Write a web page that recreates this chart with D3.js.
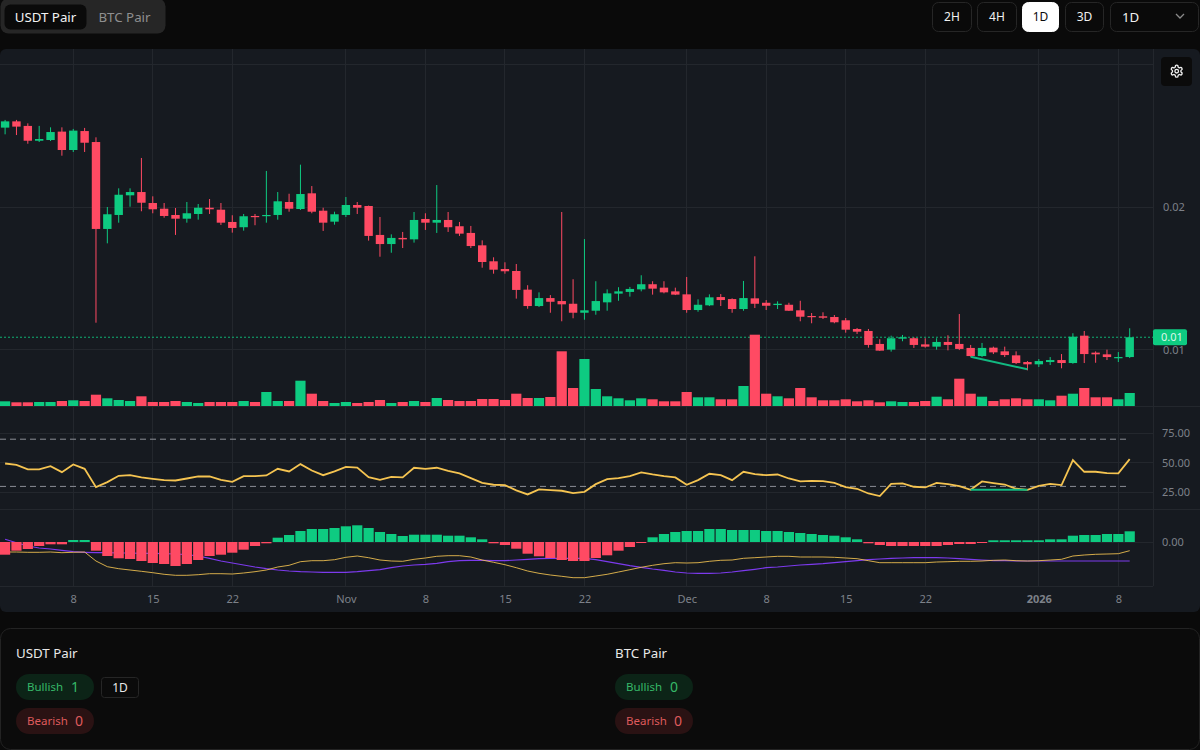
<!DOCTYPE html>
<html>
<head>
<meta charset="utf-8">
<script src="https://cdn.jsdelivr.net/npm/d3@7"></script>
<style>
  html, body { margin: 0; background: #0a0a0a; }
  svg { display: block; }
  text { font-family: "Noto Sans", sans-serif; }
</style>
</head>
<body>
<script>
// daily candles, Oct 2 2025 to Jan 9 2026
const opens = [0.02557,0.02601,0.02569,0.02465,0.02470,0.02529,0.02400,0.02533,0.02456,0.01846,0.01944,0.02082,0.02105,0.02028,0.01988,0.01944,0.01918,0.01951,0.01995,0.01981,
  0.01895,0.01858,0.01937,0.01937,0.01944,0.02035,0.01986,0.02096,0.01974,0.01897,0.01944,0.02014,0.02007,0.01804,0.01740,0.01783,0.01773,0.01916,0.01890,0.01909,
  0.01865,0.01818,0.01731,0.01619,0.01565,0.01551,0.01420,0.01305,0.01361,0.01340,0.01321,0.01258,0.01272,0.01331,0.01392,0.01404,0.01422,0.01458,0.01434,0.01408,
  0.01387,0.01277,0.01310,0.01368,0.01354,0.01284,0.01359,0.01328,0.01312,0.01314,0.01275,0.01235,0.01233,0.01228,0.01205,0.01144,0.01130,0.01039,0.00999,0.01076,
  0.01079,0.01036,0.01020,0.01053,0.01039,0.01011,0.00954,0.01013,0.00987,0.00959,0.00912,0.00896,0.00912,0.00926,0.00905,0.01097,0.00978,0.00966,0.00942,0.00947];
const highs = [0.02611,0.02611,0.02587,0.02569,0.02559,0.02559,0.02548,0.02555,0.02489,0.02000,0.02131,0.02131,0.02344,0.02075,0.02028,0.01993,0.02035,0.02021,0.02056,0.02028,
  0.01942,0.01951,0.01951,0.02253,0.02105,0.02093,0.02297,0.02147,0.01995,0.01967,0.02070,0.02035,0.02010,0.01930,0.01808,0.01825,0.01965,0.01956,0.02154,0.01965,
  0.01895,0.01867,0.01766,0.01647,0.01612,0.01600,0.01451,0.01401,0.01382,0.01965,0.01493,0.01775,0.01479,0.01422,0.01437,0.01439,0.01521,0.01479,0.01479,0.01434,
  0.01509,0.01352,0.01387,0.01389,0.01359,0.01481,0.01654,0.01347,0.01338,0.01328,0.01342,0.01256,0.01261,0.01242,0.01221,0.01151,0.01144,0.01072,0.01097,0.01102,
  0.01086,0.01079,0.01079,0.01100,0.01249,0.01032,0.01046,0.01020,0.01020,0.00987,0.00919,0.00933,0.00947,0.00968,0.01114,0.01130,0.00987,0.00999,0.00982,0.01149];
const lows = [0.02510,0.02505,0.02444,0.02456,0.02463,0.02360,0.02386,0.02386,0.01188,0.01745,0.01890,0.02002,0.01970,0.01956,0.01925,0.01804,0.01890,0.01911,0.01951,0.01874,
  0.01820,0.01834,0.01872,0.01890,0.01911,0.01967,0.01979,0.01956,0.01832,0.01876,0.01930,0.01951,0.01764,0.01651,0.01679,0.01712,0.01750,0.01839,0.01818,0.01825,
  0.01797,0.01712,0.01574,0.01532,0.01532,0.01357,0.01286,0.01298,0.01258,0.01198,0.01219,0.01209,0.01244,0.01272,0.01342,0.01371,0.01408,0.01385,0.01394,0.01382,
  0.01258,0.01265,0.01305,0.01305,0.01258,0.01272,0.01291,0.01277,0.01284,0.01270,0.01198,0.01184,0.01214,0.01184,0.01118,0.01109,0.01013,0.00990,0.00985,0.01058,
  0.01011,0.01013,0.00999,0.00994,0.00996,0.00949,0.00947,0.00968,0.00947,0.00898,0.00854,0.00877,0.00891,0.00868,0.00900,0.00905,0.00907,0.00926,0.00912,0.00940];
const closes = [0.02601,0.02564,0.02465,0.02477,0.02526,0.02400,0.02536,0.02451,0.01846,0.01949,0.02086,0.02105,0.02030,0.01984,0.01937,0.01918,0.01956,0.01995,0.01984,0.01890,
  0.01853,0.01935,0.01930,0.01944,0.02040,0.01988,0.02091,0.01967,0.01890,0.01949,0.02014,0.01995,0.01797,0.01740,0.01783,0.01773,0.01909,0.01890,0.01909,0.01858,
  0.01813,0.01726,0.01614,0.01560,0.01549,0.01418,0.01305,0.01361,0.01335,0.01317,0.01258,0.01275,0.01340,0.01394,0.01408,0.01425,0.01458,0.01427,0.01401,0.01385,
  0.01277,0.01314,0.01366,0.01347,0.01284,0.01361,0.01321,0.01307,0.01321,0.01272,0.01230,0.01228,0.01223,0.01191,0.01139,0.01125,0.01032,0.00992,0.01079,0.01086,
  0.01032,0.01020,0.01053,0.01032,0.01004,0.00954,0.01011,0.00980,0.00961,0.00905,0.00896,0.00919,0.00926,0.00905,0.01090,0.00968,0.00966,0.00947,0.00947,0.01086];
const volumes = [47,37,37,40,40,50,57,50,113,77,60,50,97,40,40,50,40,30,40,40,40,50,40,140,50,50,253,123,50,30,
  40,30,40,60,30,40,50,40,80,60,50,50,70,70,60,123,80,80,90,547,180,470,170,97,77,57,77,67,47,47,
  140,87,87,67,67,200,713,123,97,77,180,87,57,57,67,47,57,37,47,40,40,50,93,67,273,123,93,50,67,77,
  67,67,57,103,123,180,87,87,67,130];
const rsi = [49.4,48.3,44.4,44.4,47.2,42.1,48.6,44.9,29.4,33.6,39,39.5,37.6,36.4,35.3,35,36.7,38.4,38.4,35.6,
  33.9,38.7,38.7,39.3,44.9,42.7,48.9,43.5,39.5,42.7,46.6,46,37.9,35.6,38.1,37.6,45.8,44.9,45.8,43.2,
  41,37,33,31.4,31.1,26.6,23.2,27.4,26.8,26.3,24.3,25.4,31.9,36.2,37,38.7,41.8,40.1,38.7,37.6,
  31.4,35.3,40.7,39.5,35.3,42.4,40.4,39.5,40.1,36.7,34.2,34.7,34.5,33,29.4,28,24,21.8,32.2,32.5,
  29.7,29.1,33,31.9,30.2,27.1,34.2,32.8,31.6,28,27.1,30.5,32.2,31.1,52.3,42.4,42.4,41.2,41,53.1];
// macd pane, in units of 1e-5
const histogram = [-12.7,-8.7,-7,-4,-2.3,-2.3,2,2,-8.7,-14,-16.3,-17,-19,-21,-22,-24,-22,-18,-14,-12.7,
  -10.7,-7.7,-4,-1.3,4.3,7,11,13,13,14,15.7,16.7,14,10,8,6,7.3,7.3,7.3,6.3,
  6.3,4.7,2.7,-1.3,-3,-6.7,-11.7,-14.3,-16,-18,-19,-19,-16,-13.3,-8.7,-5,-1,4.7,8,10,
  11,11,13,13,12,12,12,11,11,10,9,8,7,6.3,4.7,2.7,-1.3,-3,-4,-4,
  -4,-4,-4,-3,-2,-2,-1,1.7,1.7,1.7,1.7,1.7,2.7,2.7,6.3,7,7,8,8,10.7];
const macdLine = [-10,-10,-10.3,-10.3,-10,-10.7,-10.3,-10,-19,-24.7,-26.7,-28,-29.3,-30.7,-32.3,-33.3,-33.3,-32.7,-31.7,-31.7,
  -32,-31,-29.7,-28,-25,-23.3,-19.7,-18.7,-18.7,-17.7,-15.3,-14,-15.7,-18,-19,-19.3,-17.3,-16,-14.3,-13.7,
  -13.7,-15,-18,-20.3,-22.7,-25.7,-29,-31.3,-33,-34.3,-35.7,-35.7,-34,-32.3,-30,-27.7,-25.3,-23.3,-21.7,-20.7,
  -21,-20.7,-19.3,-18.3,-18,-16.3,-15.7,-15,-14.3,-14.3,-15,-15,-15,-15.3,-16,-16.7,-18.7,-20.7,-20.7,-20.7,
  -20.7,-20.7,-20,-19.7,-19.3,-19.3,-19,-18.3,-18,-18.7,-19,-18.7,-18,-17.3,-14,-13,-12.3,-12,-11.7,-8.7];
const signalLine = [2.7,-0.7,-4,-6,-7,-8.3,-9.7,-10.3,-10.7,-10.7,-11,-11,-11.3,-11.3,-11.7,-12,-12.7,-14,-16.3,-19,
  -21,-23,-25,-26.7,-28,-29,-29.7,-30,-30.3,-30.3,-30.3,-29.7,-28.7,-27.7,-25.7,-24,-23,-22.3,-21.3,-19.7,
  -18.7,-18.3,-18.3,-18.7,-18.7,-18,-17.3,-16.7,-16.3,-16.3,-16.3,-16.3,-17.7,-19.7,-21.7,-23.7,-25.3,-27,-28.3,-30,
  -31,-31.3,-31.3,-31,-30,-28.7,-27.3,-25.7,-25,-24,-23,-22.3,-21.7,-20.7,-19.7,-18.7,-17.7,-17,-16.3,-16,
  -15.7,-15.7,-15.7,-16,-16.7,-17.3,-18,-18.7,-18.7,-19,-19,-19,-19,-19,-19,-19,-19,-19,-19,-19];

// bullish divergence drawn on price and rsi
const divergenceBars = [85, 90];
const divergencePrices = [0.00949, 0.00861];
const divergenceRsi = [27.1, 27.1];

const priceTicks = [0.01, 0.02];
const priceGrid = [0.01, 0.02, 0.03];
const rsiTicks = [25, 50, 75];
const rsiBands = [30, 70];
const macdTicks = [0];
const tickDays = ["2025-10-08","2025-10-15","2025-10-22","2025-11-01","2025-11-08","2025-11-15","2025-11-22","2025-12-01","2025-12-08","2025-12-15","2025-12-22","2026-01-01","2026-01-08"];
const tickLabels = ["8","15","22","Nov","8","15","22","Dec","8","15","22","2026","8"];
const intervals = ["2H","4H","1D","3D"];

const green = "#0ecb81", red = "#ff4a63", gold = "#f5c451", purple = "#7c3aed";
const axisColor = "#7d8189", gridColor = "#23272d", paneColor = "#161a20";

const firstDay = new Date("2025-10-02T00:00:00Z");
const days = closes.map((d, i) => d3.utcDay.offset(firstDay, i));

const svg = d3.select("body").append("svg").attr("width", 1200).attr("height", 750);

// layout of the panes
const plotRight = 1153;
const x = d3.scaleUtc().domain([firstDay, days[days.length - 1]]).range([5.1, 1129.7]);
const yPrice = d3.scaleLinear().domain([0.01, 0.02]).range([349.5, 207]);
const yVolume = d3.scaleLinear().domain([0, 713]).range([406, 334.7]);
const yRsi = d3.scaleLinear().domain([25, 75]).range([492.3, 433.3]);
const yMacd = d3.scaleLinear().domain([-44, 32.5]).range([586, 509.5]);

svg.append("rect").attr("x", 0).attr("y", 49).attr("width", 1200).attr("height", 563).attr("rx", 6).attr("fill", paneColor);

const defs = svg.append("defs");
defs.append("clipPath").attr("id", "plot").append("rect").attr("x", 0).attr("y", 49).attr("width", plotRight).attr("height", 357);

// grid
const grid = svg.append("g").attr("stroke", gridColor).attr("stroke-width", 1).attr("shape-rendering", "crispEdges");
grid.selectAll(".v").data(tickDays).join("line")
  .attr("x1", d => x(new Date(d))).attr("x2", d => x(new Date(d)))
  .attr("y1", 49).attr("y2", 586);
grid.selectAll(".p").data(priceGrid).join("line")
  .attr("x1", 0).attr("x2", plotRight).attr("y1", d => yPrice(d)).attr("y2", d => yPrice(d));
grid.selectAll(".r").data(rsiTicks).join("line")
  .attr("x1", 0).attr("x2", plotRight).attr("y1", d => yRsi(d)).attr("y2", d => yRsi(d));
grid.selectAll(".m").data(macdTicks).join("line")
  .attr("x1", 0).attr("x2", plotRight).attr("y1", d => yMacd(d)).attr("y2", d => yMacd(d));
grid.append("line").attr("x1", plotRight).attr("x2", plotRight).attr("y1", 49).attr("y2", 586);
grid.append("line").attr("x1", 0).attr("x2", plotRight).attr("y1", 586).attr("y2", 586);
grid.append("line").attr("x1", 0).attr("x2", 1200).attr("y1", 406.5).attr("y2", 406.5);
grid.append("line").attr("x1", 0).attr("x2", 1200).attr("y1", 509.5).attr("y2", 509.5);

// last price line
const lastClose = closes[closes.length - 1];
svg.append("line")
  .attr("x1", 0).attr("x2", plotRight).attr("y1", yPrice(lastClose)).attr("y2", yPrice(lastClose))
  .attr("stroke", green).attr("stroke-opacity", 0.85).attr("stroke-dasharray", "2 2");

// volume
const isUp = i => closes[i] >= opens[i];
svg.append("g").selectAll("rect").data(volumes).join("rect")
  .attr("x", (d, i) => x(days[i]) - 5.1).attr("width", 10.2)
  .attr("y", d => yVolume(d)).attr("height", d => yVolume(0) - yVolume(d))
  .attr("fill", (d, i) => isUp(i) ? green : red);

// candles
const candles = svg.append("g").attr("clip-path", "url(#plot)");
candles.selectAll("line").data(closes).join("line")
  .attr("x1", (d, i) => x(days[i])).attr("x2", (d, i) => x(days[i]))
  .attr("y1", (d, i) => yPrice(highs[i])).attr("y2", (d, i) => yPrice(lows[i]))
  .attr("stroke", (d, i) => isUp(i) ? green : red).attr("stroke-width", 1);
candles.selectAll("rect").data(closes).join("rect")
  .attr("x", (d, i) => x(days[i]) - 4.2).attr("width", 8.4)
  .attr("y", (d, i) => yPrice(Math.max(opens[i], d)))
  .attr("height", (d, i) => Math.max(1.2, Math.abs(yPrice(opens[i]) - yPrice(d))))
  .attr("fill", (d, i) => isUp(i) ? green : red);

// divergence on price
svg.append("line")
  .attr("x1", x(days[divergenceBars[0]])).attr("x2", x(days[divergenceBars[1]]))
  .attr("y1", yPrice(divergencePrices[0])).attr("y2", yPrice(divergencePrices[1]))
  .attr("stroke", "#12b981").attr("stroke-width", 2);

// rsi
svg.append("g").selectAll("line").data(rsiBands).join("line")
  .attr("x1", 0).attr("x2", x(days[days.length - 1]))
  .attr("y1", d => yRsi(d)).attr("y2", d => yRsi(d))
  .attr("stroke", "#8b8f96").attr("stroke-dasharray", "6 4");
const rsiPath = d3.line().x((d, i) => x(days[i])).y(d => yRsi(d));
svg.append("path").attr("d", rsiPath(rsi)).attr("fill", "none").attr("stroke", gold).attr("stroke-width", 1.8);
svg.append("line")
  .attr("x1", x(days[divergenceBars[0]])).attr("x2", x(days[divergenceBars[1]]))
  .attr("y1", yRsi(divergenceRsi[0])).attr("y2", yRsi(divergenceRsi[1]))
  .attr("stroke", "#12b981").attr("stroke-width", 2);

// macd
const macdPath = d3.line().x((d, i) => x(days[i])).y(d => yMacd(d));
svg.append("path").attr("d", macdPath(signalLine)).attr("fill", "none").attr("stroke", purple).attr("stroke-width", 1.2);
svg.append("path").attr("d", macdPath(macdLine)).attr("fill", "none").attr("stroke", gold).attr("stroke-width", 1).attr("stroke-opacity", 0.85);
svg.append("g").selectAll("rect").data(histogram).join("rect")
  .attr("x", (d, i) => x(days[i]) - 5.1).attr("width", 10.2)
  .attr("y", d => yMacd(Math.max(d, 0))).attr("height", d => Math.abs(yMacd(d) - yMacd(0)))
  .attr("fill", d => d >= 0 ? green : red);

// axes
function styleAxis(g) {
  g.select(".domain").remove();
  g.selectAll("line").remove();
  g.selectAll("text").attr("fill", axisColor).attr("font-size", 11).attr("font-family", '"Noto Sans", sans-serif');
}
svg.append("g").attr("transform", `translate(${plotRight},0)`)
  .call(d3.axisRight(yPrice).tickValues(priceTicks).tickSize(0).tickPadding(10).tickFormat(d3.format(".2f"))).call(styleAxis);
svg.append("g").attr("transform", `translate(${plotRight},0)`)
  .call(d3.axisRight(yRsi).tickValues(rsiTicks).tickSize(0).tickPadding(9).tickFormat(d3.format(".2f"))).call(styleAxis);
svg.append("g").attr("transform", `translate(${plotRight},0)`)
  .call(d3.axisRight(yMacd).tickValues(macdTicks).tickSize(0).tickPadding(9).tickFormat(d3.format(".2f"))).call(styleAxis);
const xAxis = svg.append("g").attr("transform", "translate(0,586)")
  .call(d3.axisBottom(x).tickValues(tickDays.map(d => new Date(d))).tickSize(0).tickPadding(9).tickFormat((d, i) => tickLabels[i]))
  .call(styleAxis);
xAxis.selectAll("text").filter((d, i) => tickLabels[i] === "2026").attr("font-weight", 700);

// last price tag
svg.append("rect").attr("x", 1153).attr("y", yPrice(lastClose) - 8).attr("width", 34).attr("height", 16).attr("rx", 2).attr("fill", green);
svg.append("text").attr("x", 1172).attr("y", yPrice(lastClose) + 4).attr("text-anchor", "middle")
  .attr("fill", "#dcf7ea").attr("font-size", 11).text(d3.format(".2f")(lastClose));

// settings button
svg.append("rect").attr("x", 1161).attr("y", 57).attr("width", 31).attr("height", 29).attr("rx", 4).attr("fill", "#0b0b0b");
const gear = svg.append("g").attr("transform", "translate(1169.5,64) scale(0.6)").attr("fill", "none").attr("stroke", "#f2f2f2").attr("stroke-width", 2.2);
gear.append("path").attr("d", "M12.22 2h-.44a2 2 0 0 0-2 2v.18a2 2 0 0 1-1 1.73l-.43.25a2 2 0 0 1-2 0l-.15-.08a2 2 0 0 0-2.73.73l-.22.38a2 2 0 0 0 .73 2.73l.15.1a2 2 0 0 1 1 1.72v.51a2 2 0 0 1-1 1.74l-.15.09a2 2 0 0 0-.73 2.73l.22.38a2 2 0 0 0 2.73.73l.15-.08a2 2 0 0 1 2 0l.43.25a2 2 0 0 1 1 1.73V20a2 2 0 0 0 2 2h.44a2 2 0 0 0 2-2v-.18a2 2 0 0 1 1-1.73l.43-.25a2 2 0 0 1 2 0l.15.08a2 2 0 0 0 2.73-.73l.22-.39a2 2 0 0 0-.73-2.73l-.15-.08a2 2 0 0 1-1-1.74v-.5a2 2 0 0 1 1-1.74l.15-.09a2 2 0 0 0 .73-2.73l-.22-.38a2 2 0 0 0-2.73-.73l-.15.08a2 2 0 0 1-2 0l-.43-.25a2 2 0 0 1-1-1.73V4a2 2 0 0 0-2-2z");
gear.append("circle").attr("cx", 12).attr("cy", 12).attr("r", 3);

// header controls
function box(px, py, w, h, r, fill, stroke) {
  return svg.append("rect").attr("x", px + 0.5).attr("y", py + 0.5).attr("width", w - 1).attr("height", h - 1).attr("rx", r)
    .attr("fill", fill).attr("stroke", stroke || "none");
}
function label(px, py, str, size, fill, anchor) {
  return svg.append("text").attr("x", px).attr("y", py).attr("font-size", size).attr("fill", fill)
    .attr("text-anchor", anchor || "start").text(str);
}
box(0, -2, 166, 36, 8, "#262626");
box(4, 4, 83, 26, 6, "#0a0a0a");
label(45.5, 22, "USDT Pair", 13.3, "#f2f2f2", "middle");
label(124.5, 22, "BTC Pair", 13.3, "#8f8f8f", "middle");

const intervalX = [932, 977, 1022, 1065];
const intervalW = [40, 40, 37, 39];
intervals.forEach((d, i) => {
  const on = d === "1D";
  box(intervalX[i], 2, intervalW[i], 30, 6, on ? "#ffffff" : "#0a0a0a", on ? "#ffffff" : "#262626");
  label(intervalX[i] + intervalW[i] / 2, 21, d, 12, on ? "#0a0a0a" : "#f0f0f0", "middle");
});
box(1110, 2, 89, 30, 6, "#0a0a0a", "#262626");
label(1122, 21.5, "1D", 13.3, "#f0f0f0");
svg.append("path").attr("d", "M1176 14 L1180 18 L1184 14").attr("fill", "none").attr("stroke", "#8a8a8a").attr("stroke-width", 1.3);

// summary panel
box(0, 628, 1200, 122, 10, "#0b0b0b", "#232323");
function summary(px, pair, bull, bear, tag) {
  label(px, 658, pair, 13.3, "#e8e8e8");
  svg.append("rect").attr("x", px).attr("y", 674).attr("width", 78).attr("height", 26).attr("rx", 13).attr("fill", "#0c2417");
  label(px + 11, 691, "Bullish", 11.5, "#36b868");
  label(px + 55, 692, bull, 14, "#36b868");
  svg.append("rect").attr("x", px).attr("y", 708).attr("width", 78).attr("height", 26).attr("rx", 13).attr("fill", "#2a1213");
  label(px + 11, 725, "Bearish", 11.5, "#df5a5c");
  label(px + 59, 726, bear, 14, "#df5a5c");
  if (tag) {
    box(px + 85, 677, 38, 21, 3, "#0b0b0b", "#262626");
    label(px + 104, 691.5, tag, 12, "#e8e8e8", "middle");
  }
}
summary(16, "USDT Pair", "1", "0", "1D");
summary(615, "BTC Pair", "0", "0");
</script>
</body>
</html>
